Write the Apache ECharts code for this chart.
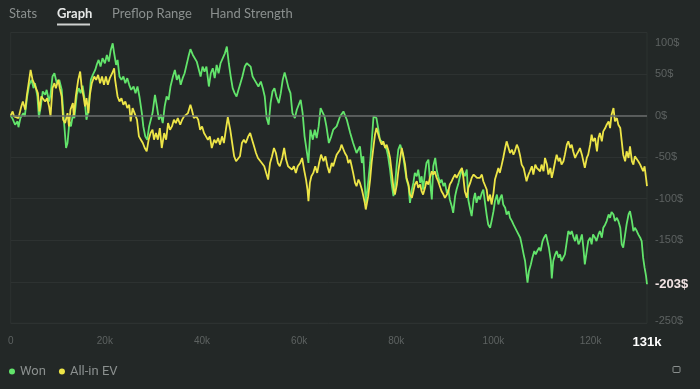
<!DOCTYPE html>
<html>
<head>
<meta charset="utf-8">
<script src="https://cdn.jsdelivr.net/npm/echarts@6/dist/echarts.min.js"></script>
<style>
html,body{margin:0;padding:0;background:#232827;}
#c{width:700px;height:389px;}
</style>
</head>
<body>
<div id="c"></div>
<script>
// Tabs
const tabs = ['Stats', 'Graph', 'Preflop Range', 'Hand Strength'];
const activeTab = 'Graph';
const legendNames = ['Won', 'All-in EV'];
// x axis: hands (thousands)
const totalHandsK = 131;
const xTickStepK = 20;
// y axis: dollars
const yMin = -250, yMax = 100, yStep = 50;

// [hands (k), dollars]
const wonPoints = [
[0,0],[0.4,-4],[0.9,-11],[1.4,-7],[1.6,-14],[2.0,-3],[2.6,3],[2.9,-1],[3.4,23],[3.8,37],[4.3,43],[4.7,33],[5.0,39],[5.5,23],[5.8,-2],[6.2,11],[6.6,29],[7.1,25],[7.4,31],[7.9,17],[8.2,25],[8.6,47],[9.0,51],[9.5,39],[10.0,43],[10.5,31],[11.0,-9],[11.4,-39],[11.7,-33],[12.1,-7],[12.4,-13],[12.8,1],[13.1,-3],[13.6,25],[14.0,33],[14.4,27],[14.8,36],[15.2,21],[15.6,-5],[16.0,7],[16.5,43],[16.9,49],[17.4,55],[17.7,61],[18.1,67],[18.5,59],[18.9,69],[19.4,63],[19.8,73],[20.2,65],[20.6,79],[21.0,87],[21.3,75],[21.7,61],[22.0,67],[22.4,47],[22.8,43],[23.2,47],[23.6,39],[24.0,45],[24.4,37],[24.8,31],[25.3,35],[25.7,27],[26.1,35],[26.5,23],[27.0,3],[27.3,-13],[27.7,-25],[28.1,-29],[28.5,-13],[28.8,-15],[29.2,3],[29.7,25],[30.1,11],[30.5,-5],[30.9,1],[31.3,-9],[31.7,11],[32.1,23],[32.5,19],[32.9,35],[33.4,47],[33.8,55],[34.2,43],[34.6,49],[35.0,37],[35.4,45],[35.8,51],[36.2,53],[36.6,71],[37.0,80],[37.5,73],[37.9,74],[38.3,65],[38.7,63],[39.1,47],[39.5,59],[39.9,53],[40.3,59],[40.8,35],[41.2,51],[41.6,57],[42.0,45],[42.4,61],[42.8,51],[43.2,63],[43.6,65],[44.1,75],[44.5,83],[44.9,63],[45.3,47],[45.7,33],[46.1,27],[46.5,23],[46.9,31],[47.3,39],[47.7,47],[48.2,59],[48.6,63],[49.0,65],[49.4,59],[49.8,47],[50.2,43],[50.6,45],[51.0,35],[51.5,41],[51.9,33],[52.3,23],[52.7,-3],[53.1,-11],[53.5,15],[53.9,29],[54.3,33],[54.7,23],[55.2,15],[55.6,27],[56.0,43],[56.4,52],[56.8,43],[57.2,33],[57.6,27],[58.0,3],[58.5,-3],[58.9,7],[59.3,13],[59.7,19],[60.1,3],[60.5,-25],[60.9,-41],[61.3,-57],[61.7,-17],[62.2,-29],[62.6,-17],[63.0,-27],[63.4,-13],[63.8,9],[64.2,11],[64.6,-1],[65.0,-13],[65.5,-33],[66.0,-25],[66.4,-17],[67.1,-13],[67.8,-1],[68.5,5],[69.2,-5],[69.9,-21],[70.5,-33],[71.2,-45],[71.9,-37],[72.3,-57],[72.6,-49],[73.1,-105],[73.6,-80],[74.0,-57],[74.3,-33],[74.7,-1],[75.0,1],[75.3,-3],[75.7,-17],[76.0,-29],[76.7,-33],[77.4,-41],[77.7,-49],[78.1,-65],[78.4,-81],[78.8,-97],[79.1,-85],[79.5,-57],[79.8,-41],[80.2,-35],[80.5,-41],[80.8,-49],[81.2,-65],[81.5,-77],[81.9,-85],[82.2,-105],[82.6,-89],[82.9,-81],[83.2,-69],[83.6,-73],[83.9,-65],[84.3,-81],[84.6,-73],[84.9,-89],[85.3,-69],[85.6,-57],[86.0,-53],[86.3,-77],[86.7,-101],[87.0,-61],[87.4,-51],[87.7,-65],[88.0,-73],[88.4,-81],[88.7,-77],[89.1,-85],[89.4,-81],[89.8,-93],[90.1,-89],[90.4,-101],[90.8,-109],[91.1,-117],[91.5,-97],[91.8,-89],[92.2,-81],[92.5,-73],[92.9,-65],[93.2,-63],[93.5,-73],[93.9,-65],[94.2,-101],[94.6,-113],[94.9,-121],[95.3,-101],[95.6,-93],[95.9,-105],[96.3,-97],[96.6,-101],[97.0,-93],[97.3,-89],[97.7,-107],[98.0,-120],[98.3,-131],[98.7,-135],[99.0,-127],[99.4,-115],[99.7,-103],[100.1,-95],[100.4,-107],[100.8,-99],[101.1,-95],[101.4,-107],[101.8,-111],[102.1,-119],[102.5,-115],[102.8,-123],[103.2,-127],[103.5,-131],[103.8,-133],[104.2,-139],[104.5,-139],[104.9,-147],[105.2,-155],[105.6,-167],[105.9,-175],[106.2,-191],[106.4,-201],[106.7,-187],[107.1,-179],[107.4,-171],[107.8,-163],[108.1,-167],[108.4,-163],[108.8,-159],[109.1,-163],[109.5,-151],[109.8,-147],[110.2,-143],[110.5,-151],[110.8,-159],[111.2,-175],[111.4,-196],[111.7,-175],[112.1,-167],[112.4,-163],[112.8,-171],[113.1,-167],[113.4,-175],[113.8,-173],[114.1,-167],[114.5,-151],[114.8,-139],[115.2,-143],[115.5,-139],[115.9,-147],[116.2,-151],[116.5,-143],[116.9,-155],[117.2,-151],[117.6,-143],[117.9,-159],[118.2,-179],[118.6,-163],[118.9,-151],[119.3,-147],[119.6,-155],[119.9,-143],[120.3,-147],[120.6,-151],[121.0,-143],[121.3,-139],[121.7,-147],[122.0,-135],[122.4,-131],[122.7,-127],[123.1,-119],[123.4,-123],[123.7,-116],[124.1,-119],[124.4,-127],[124.8,-123],[125.1,-127],[125.5,-135],[125.8,-155],[126.1,-159],[126.5,-143],[126.8,-131],[127.2,-119],[127.5,-115],[127.9,-127],[128.2,-139],[128.5,-135],[128.9,-139],[129.2,-143],[129.6,-147],[129.9,-151],[130.2,-171],[130.5,-183],[130.8,-193],[131.0,-203]
];

const evPoints = [
[0,0],[0.4,5],[0.7,-1],[1.1,1],[1.6,-3],[2.1,9],[2.5,17],[3.0,7],[3.3,23],[3.7,39],[4.1,55],[4.5,43],[4.8,39],[5.2,37],[5.6,27],[5.9,5],[6.3,23],[6.7,25],[7.1,17],[7.5,21],[7.9,11],[8.2,-1],[8.6,33],[9.0,39],[9.3,33],[9.8,43],[10.1,33],[10.5,23],[10.8,-5],[11.2,-9],[11.7,3],[12.0,-13],[12.3,7],[12.8,15],[13.0,-1],[13.4,23],[13.9,43],[14.3,53],[14.6,35],[15.0,23],[15.3,11],[15.6,21],[16.0,3],[16.3,25],[16.7,39],[17.2,47],[17.6,43],[18.0,49],[18.4,39],[18.8,47],[19.2,37],[19.6,47],[20.0,37],[20.4,45],[20.9,51],[21.3,57],[21.5,43],[22.0,23],[22.4,17],[22.8,21],[23.2,13],[23.6,17],[24.0,9],[24.4,13],[24.7,-7],[25.1,9],[25.5,3],[26.0,-5],[26.4,-25],[26.8,-29],[27.2,-33],[27.6,-39],[28.0,-43],[28.4,-29],[28.8,-21],[29.2,-17],[29.5,-29],[29.9,-21],[30.3,-29],[30.7,-15],[31.1,-39],[31.6,-21],[32.0,-29],[32.4,-9],[32.8,-17],[33.2,-13],[33.6,-5],[34.0,-9],[34.4,-3],[34.9,-11],[35.3,-5],[35.7,-1],[36.1,-3],[36.5,3],[37.0,13],[37.3,7],[37.7,-3],[38.2,-1],[38.6,-5],[39.0,-17],[39.4,-13],[39.8,-21],[40.2,-25],[40.6,-29],[41.0,-25],[41.4,-39],[41.9,-29],[42.3,-33],[42.7,-27],[43.1,-35],[43.5,-25],[43.9,-33],[44.3,-17],[44.7,-2],[45.2,-17],[45.6,-33],[46.0,-49],[46.4,-55],[46.8,-57],[47.2,-49],[47.6,-33],[48.0,-29],[48.4,-33],[48.9,-25],[49.3,-21],[49.7,-29],[50.1,-37],[50.5,-45],[50.9,-51],[51.3,-49],[51.7,-57],[52.2,-61],[52.6,-69],[53.0,-77],[53.4,-57],[53.8,-49],[54.2,-39],[54.6,-45],[55.0,-57],[55.4,-61],[55.9,-51],[56.3,-39],[56.7,-53],[57.1,-61],[57.5,-59],[57.9,-65],[58.3,-61],[58.7,-69],[59.1,-61],[59.6,-57],[60.0,-51],[60.4,-65],[60.8,-77],[61.1,-89],[61.3,-103],[61.6,-81],[61.9,-73],[62.3,-69],[62.7,-61],[63.1,-69],[63.5,-57],[63.9,-47],[64.4,-55],[64.8,-49],[65.2,-61],[65.6,-69],[66.1,-57],[66.4,-61],[66.8,-53],[67.1,-47],[67.5,-49],[67.8,-41],[68.1,-35],[68.5,-37],[68.8,-45],[69.2,-49],[69.5,-57],[69.9,-53],[70.2,-61],[70.5,-69],[70.9,-81],[71.2,-85],[71.6,-77],[71.9,-81],[72.3,-89],[72.6,-97],[72.9,-105],[73.1,-113],[73.6,-97],[74.0,-77],[74.3,-57],[74.7,-37],[75.0,-23],[75.3,-15],[75.7,-23],[76.1,-31],[76.4,-35],[76.7,-31],[77.1,-39],[77.4,-35],[77.8,-43],[78.1,-51],[78.5,-71],[78.8,-87],[79.1,-95],[79.5,-83],[79.8,-67],[80.1,-55],[80.5,-39],[80.8,-47],[81.2,-59],[81.5,-75],[81.9,-83],[82.2,-95],[82.6,-99],[82.9,-91],[83.2,-83],[83.6,-79],[83.9,-87],[84.3,-83],[84.6,-91],[84.9,-95],[85.3,-87],[85.6,-79],[86.0,-83],[86.3,-75],[86.7,-67],[87.0,-71],[87.3,-67],[87.7,-75],[88.0,-79],[88.4,-81],[88.7,-91],[89.1,-95],[89.4,-99],[89.8,-95],[90.1,-91],[90.4,-83],[90.8,-79],[91.1,-75],[91.5,-71],[91.8,-75],[92.5,-67],[92.9,-63],[93.2,-75],[93.5,-91],[93.9,-99],[94.2,-87],[94.6,-81],[94.9,-75],[95.3,-71],[95.6,-73],[96.0,-75],[96.3,-73],[96.6,-75],[97.0,-71],[97.3,-79],[97.7,-81],[98.0,-89],[98.3,-103],[98.7,-95],[99.0,-107],[99.4,-93],[99.7,-77],[100.1,-69],[100.4,-63],[100.7,-69],[101.1,-59],[101.4,-51],[101.8,-39],[102.1,-31],[102.5,-39],[102.8,-45],[103.2,-41],[103.5,-47],[103.8,-43],[104.2,-35],[104.5,-39],[104.9,-49],[105.2,-59],[105.6,-63],[105.9,-71],[106.2,-79],[106.6,-71],[106.9,-67],[107.3,-61],[107.6,-71],[108.0,-59],[108.3,-63],[108.6,-61],[109.0,-67],[109.3,-59],[109.7,-67],[110.0,-51],[110.4,-59],[110.7,-71],[111.1,-63],[111.4,-75],[111.7,-67],[112.1,-55],[112.4,-47],[112.8,-55],[113.1,-51],[113.4,-59],[113.8,-55],[114.1,-47],[114.5,-35],[114.8,-31],[115.2,-39],[115.5,-35],[115.8,-43],[116.2,-51],[116.5,-47],[116.9,-43],[117.2,-39],[117.6,-47],[117.9,-55],[118.2,-63],[118.6,-51],[118.9,-47],[119.3,-35],[119.6,-23],[119.9,-31],[120.3,-27],[120.7,-43],[121.0,-27],[121.3,-21],[121.7,-31],[122.0,-19],[122.4,-15],[122.7,-11],[123.1,-7],[123.4,-15],[123.7,1],[124.1,9],[124.4,-7],[124.8,-3],[125.1,-11],[125.5,-15],[125.8,-31],[126.1,-47],[126.5,-55],[126.8,-43],[127.2,-51],[127.5,-37],[127.9,-55],[128.2,-59],[128.5,-49],[128.9,-51],[129.2,-55],[129.6,-59],[129.9,-63],[130.2,-67],[130.5,-61],[130.8,-75],[131.0,-85]
];

const COLORS = { won: '#62e46b', ev: '#ede547', text: '#8b908f', axis: '#5d6261', grid: '#2d3231', zero: '#6a6d6c' };

const chart = echarts.init(document.getElementById('c'), null, { renderer: 'canvas' });

const toSeries = pts => pts.map(p => [p[0] * 1000, p[1]]);
const lastWon = wonPoints[wonPoints.length - 1][1];

// tabs graphic
const tabX = [9, 57, 112, 210];
const tabGraphics = tabs.map((t, i) => ({
  type: 'text', left: tabX[i], top: 7,
  style: { text: t, fill: t === activeTab ? '#e6e8e7' : COLORS.text, font: (t === activeTab ? 'bold ' : 'normal ') + '13px Lato' }
}));

const option = {
  backgroundColor: '#232827',
  animation: false,
  textStyle: { fontFamily: 'Liberation Sans' },
  grid: { left: 10.7, right: 53, top: 32.5, bottom: 65.7, show: true, borderColor: COLORS.grid, borderWidth: 1 },
  legend: {
    data: legendNames, left: 9, top: 365, padding: 0, icon: 'circle', itemWidth: 6, itemHeight: 6, itemGap: 13,
    textStyle: { color: COLORS.text, fontSize: 13, fontFamily: 'Roboto' }
  },
  xAxis: {
    type: 'value', min: 0, max: totalHandsK * 1000, interval: xTickStepK * 1000,
    axisLine: { show: false }, axisTick: { show: false }, splitLine: { show: false },
    axisLabel: {
      color: COLORS.axis, fontSize: 10, margin: 13, showMaxLabel: true,
      formatter: v => {
        if (v === totalHandsK * 1000) return '{b|' + totalHandsK + 'k}';
        return v === 0 ? '0' : '{n|' + (v / 1000) + 'k}';
      },
      rich: {
        b: { color: '#ffffff', fontWeight: 'bold', fontSize: 13, fontFamily: 'Liberation Sans' },
        n: { color: COLORS.axis, fontSize: 10, padding: [0, 6, 0, 0] }
      }
    }
  },
  yAxis: {
    type: 'value', position: 'right', min: yMin, max: yMax, interval: yStep,
    axisLine: { show: false }, axisTick: { show: false },
    splitLine: { lineStyle: { color: COLORS.grid, width: 1 } },
    axisLabel: {
      color: COLORS.axis, fontSize: 11, margin: 8,
      formatter: v => {
        if (Math.abs(v - Math.round(lastWon)) < 10) return '';
        if (v === yMax) return '{t|' + v + '$}';
        if (v === yMin) return '{m|' + v + '$}';
        return v + '$';
      },
      rich: {
        t: { padding: [20, 0, 0, 0], color: COLORS.axis, fontSize: 11 },
        m: { padding: [0, 0, 5, 0], color: COLORS.axis, fontSize: 11 }
      }
    }
  },
  series: [
    {
      name: legendNames[0], type: 'line', data: toSeries(wonPoints), showSymbol: false, symbol: 'none',
      lineStyle: { color: COLORS.won, width: 1.8 }, itemStyle: { color: COLORS.won }, z: 3,
      markLine: {
        silent: true, symbol: 'none', label: { show: false },
        lineStyle: { color: COLORS.zero, width: 1.5, type: 'solid' },
        data: [{ yAxis: 0 }]
      },
      endLabel: {
        show: true, distance: 8, formatter: p => Math.round(p.value[1]) + '$',
        color: '#f3e4e4', fontWeight: 'bold', fontSize: 13, fontFamily: 'Liberation Sans'
      }
    },
    {
      name: legendNames[1], type: 'line', data: toSeries(evPoints), showSymbol: false, symbol: 'none',
      lineStyle: { color: COLORS.ev, width: 1.8 }, itemStyle: { color: COLORS.ev }, z: 4
    }
  ],
  graphic: [
    ...tabGraphics,
    { type: 'rect', shape: { x: 57, y: 23.5, width: 33, height: 2 }, style: { fill: '#cfd1d0' } },
    { type: 'rect', shape: { x: 673, y: 366.5, width: 7, height: 6, r: 1 }, style: { fill: 'none', stroke: COLORS.text, lineWidth: 1 } }
  ]
};
chart.setOption(option);
</script>
</body>
</html>
